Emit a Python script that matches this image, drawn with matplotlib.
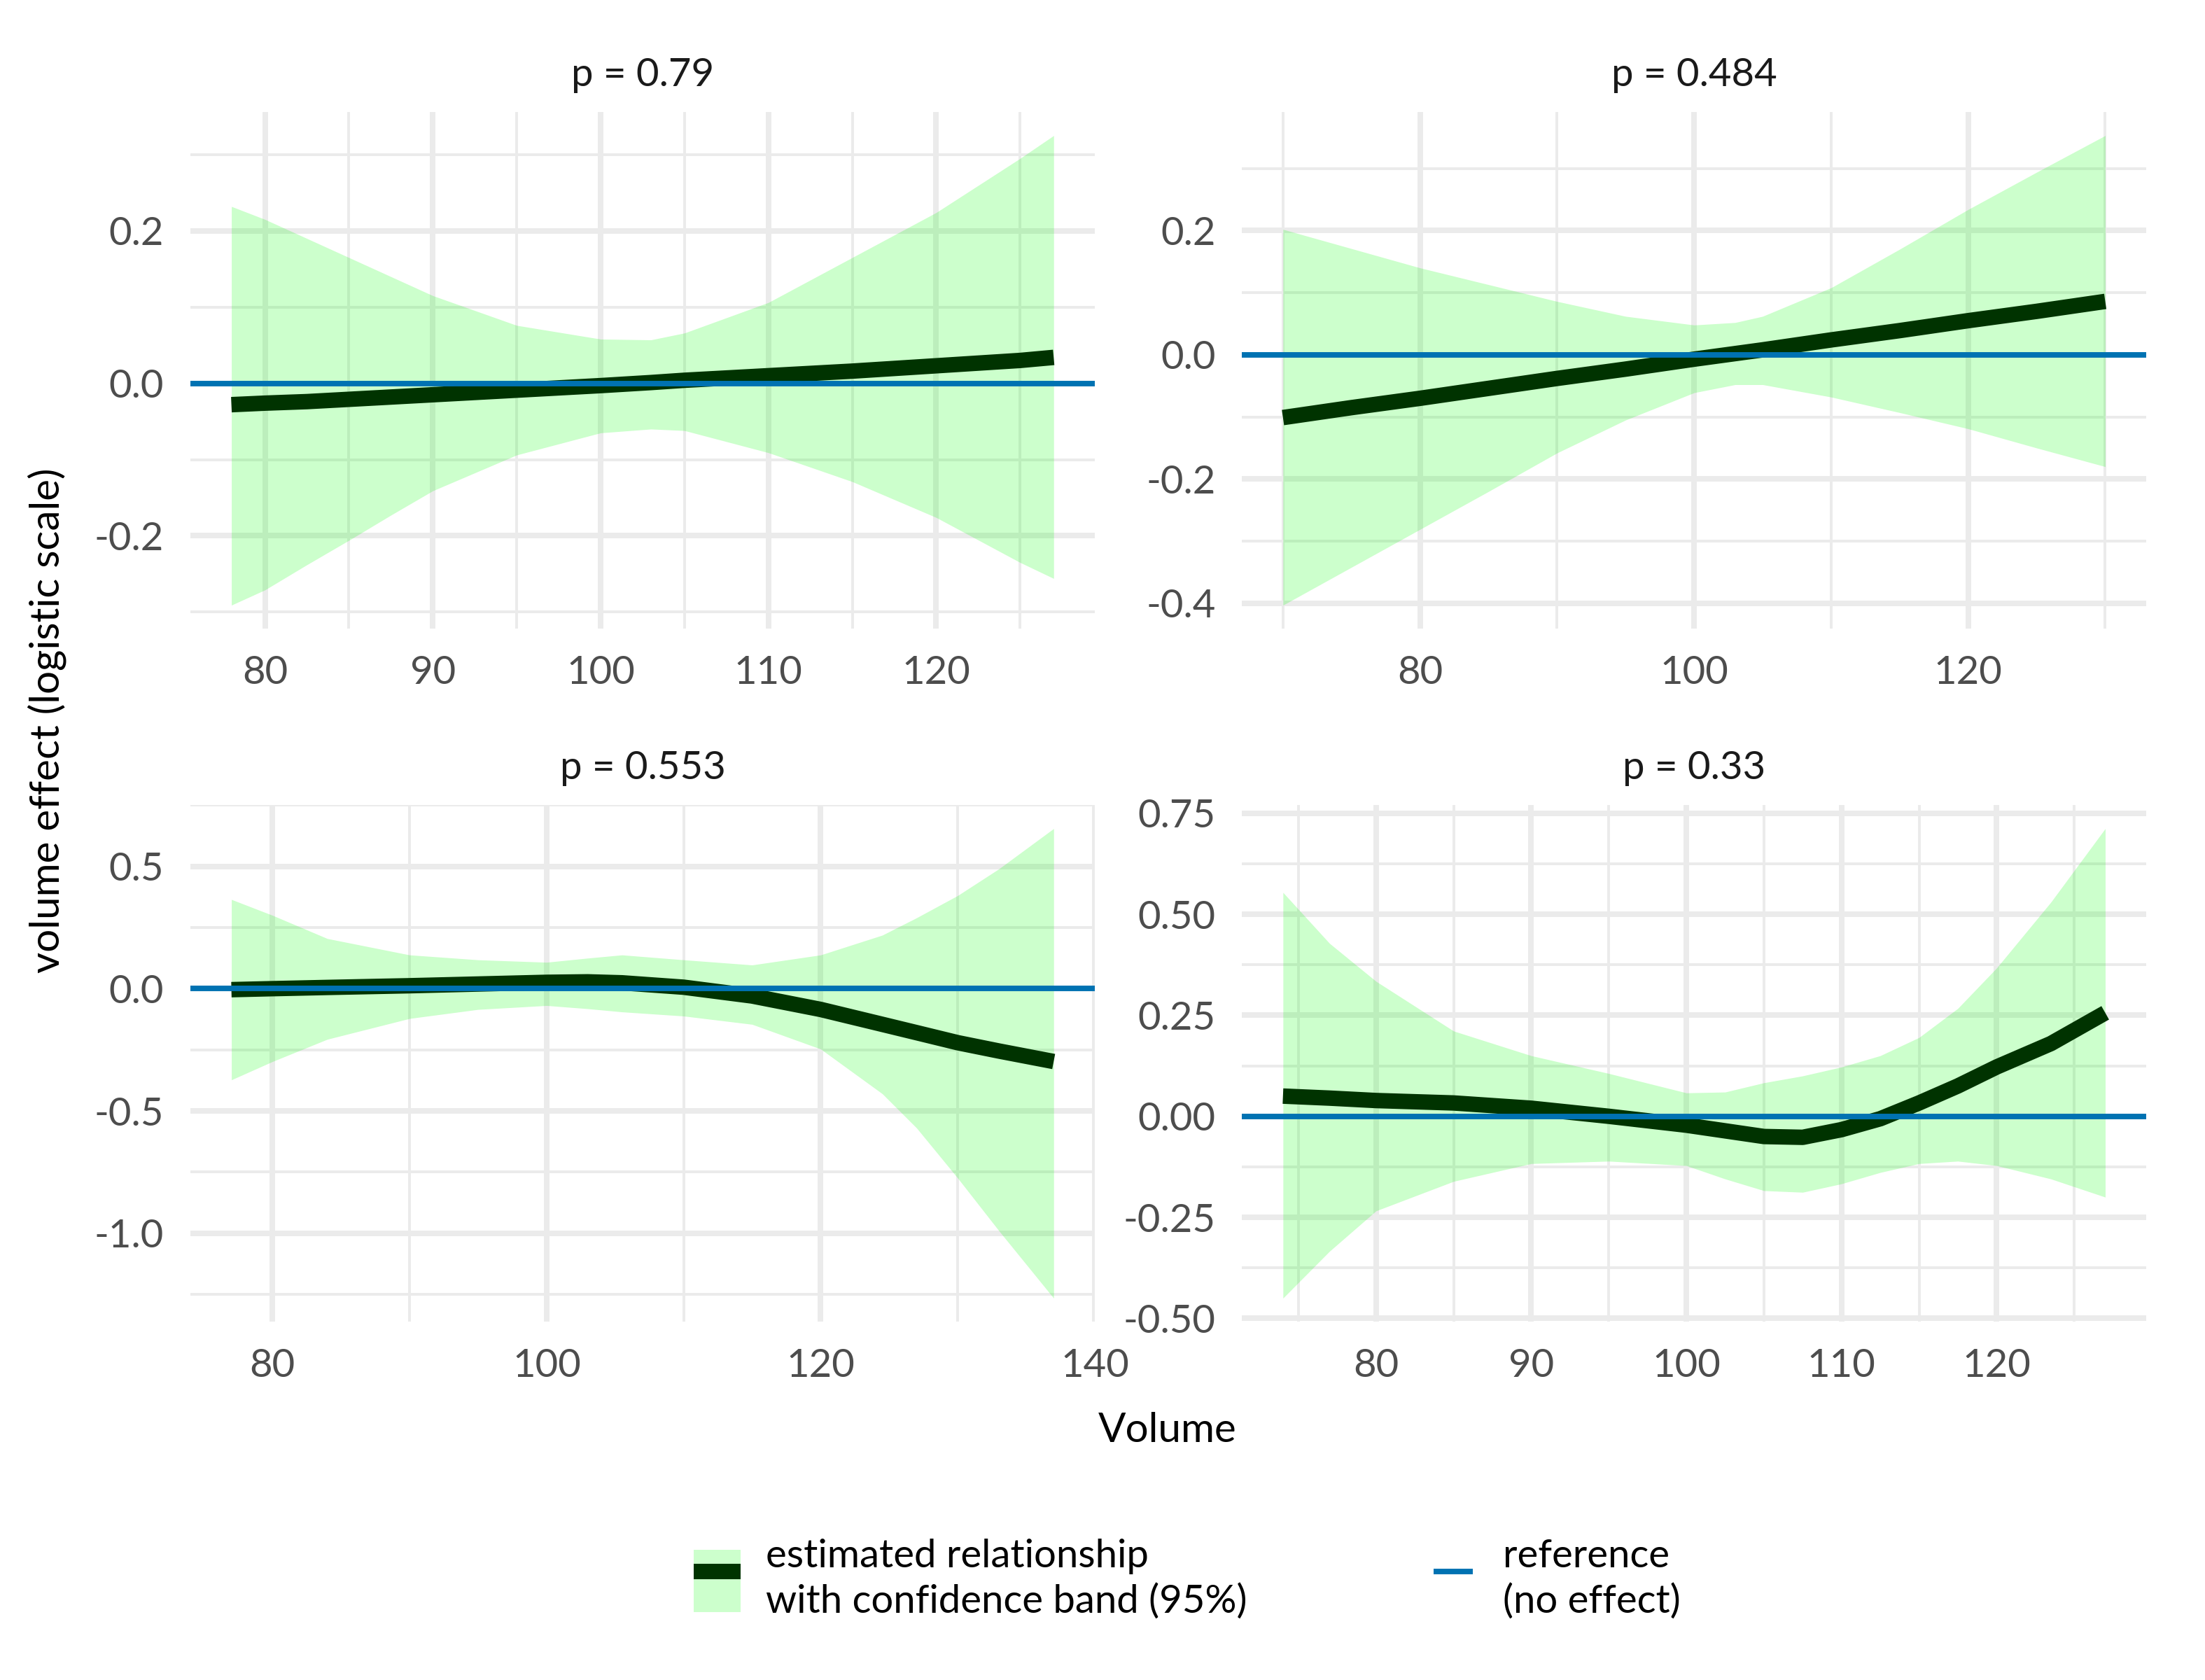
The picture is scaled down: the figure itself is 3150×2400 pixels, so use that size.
import matplotlib
matplotlib.use('Agg')
import matplotlib.pyplot as plt
from matplotlib.lines import Line2D
from matplotlib.patches import Patch
from matplotlib.legend_handler import HandlerTuple
from matplotlib.ticker import FixedLocator, FormatStrFormatter

plt.rcParams['font.family'] = ['Lato', 'DejaVu Sans']
plt.rcParams['axes.unicode_minus'] = False

# panel 1: p = 0.79
p1_x = [78, 80, 82.5, 85, 87.5, 90, 95, 100, 103, 105, 110, 115, 120, 125, 127]
p1_fit = [-0.028, -0.026, -0.024, -0.021, -0.018, -0.015, -0.009, -0.003, 0.001,
          0.004, 0.010, 0.016, 0.023, 0.030, 0.034]
p1_hi = [0.232, 0.215, 0.190, 0.165, 0.140, 0.115, 0.076, 0.058, 0.057,
         0.066, 0.106, 0.165, 0.224, 0.295, 0.325]
p1_lo = [-0.291, -0.271, -0.238, -0.206, -0.173, -0.141, -0.094, -0.065, -0.060,
         -0.062, -0.091, -0.129, -0.176, -0.235, -0.256]

# panel 2: p = 0.484
p2_x = [70, 75, 80, 85, 90, 95, 100, 103, 105, 110, 115, 120, 125, 130]
p2_fit = [-0.101, -0.085, -0.070, -0.054, -0.038, -0.023, -0.007, 0.002, 0.008,
          0.024, 0.039, 0.055, 0.070, 0.086]
p2_hi = [0.202, 0.171, 0.140, 0.113, 0.086, 0.062, 0.048, 0.052, 0.062, 0.108,
         0.170, 0.234, 0.294, 0.353]
p2_lo = [-0.403, -0.342, -0.281, -0.220, -0.158, -0.105, -0.061, -0.048, -0.048,
         -0.068, -0.093, -0.119, -0.150, -0.180]

# panel 3: p = 0.553
p3_x = [77, 80, 84, 90, 95, 100, 103, 105.5, 110, 115, 120, 124.5, 127, 130, 133, 137]
p3_fit = [-0.004, 0.000, 0.005, 0.012, 0.019, 0.026, 0.028, 0.024, 0.006, -0.030,
          -0.085, -0.146, -0.180, -0.221, -0.255, -0.298]
p3_hi = [0.365, 0.300, 0.205, 0.138, 0.118, 0.108, 0.125, 0.138, 0.118, 0.097,
         0.138, 0.219, 0.290, 0.381, 0.490, 0.655]
p3_lo = [-0.373, -0.298, -0.207, -0.122, -0.085, -0.069, -0.082, -0.095, -0.112,
         -0.146, -0.247, -0.430, -0.570, -0.775, -0.990, -1.266]

# panel 4: p = 0.33
p4_x = [74, 77, 80, 85, 90, 95, 100, 102.5, 105, 107.5, 110, 112.5, 115, 117.5,
        120, 123.5, 127]
p4_fit = [0.050, 0.045, 0.039, 0.033, 0.020, 0.000, -0.022, -0.036, -0.050, -0.052,
          -0.033, -0.006, 0.033, 0.075, 0.122, 0.180, 0.256]
p4_hi = [0.554, 0.428, 0.334, 0.211, 0.150, 0.106, 0.058, 0.060, 0.083, 0.100,
         0.122, 0.150, 0.195, 0.267, 0.367, 0.530, 0.712]
p4_lo = [-0.450, -0.334, -0.234, -0.161, -0.117, -0.111, -0.122, -0.155, -0.184,
         -0.188, -0.167, -0.139, -0.117, -0.111, -0.122, -0.155, -0.200]

titles = ['p = 0.79', 'p = 0.484', 'p = 0.553', 'p = 0.33']

panels = [
    dict(x=p1_x, fit=p1_fit, hi=p1_hi, lo=p1_lo,
         xmaj=[80, 90, 100, 110, 120], xmin=[85, 95, 105, 115, 125],
         ymaj=[-0.2, 0.0, 0.2], ymin=[-0.3, -0.1, 0.1, 0.3], yfmt='%.1f'),
    dict(x=p2_x, fit=p2_fit, hi=p2_hi, lo=p2_lo,
         xmaj=[80, 100, 120], xmin=[70, 90, 110, 130],
         ymaj=[-0.4, -0.2, 0.0, 0.2], ymin=[-0.3, -0.1, 0.1, 0.3], yfmt='%.1f'),
    dict(x=p3_x, fit=p3_fit, hi=p3_hi, lo=p3_lo,
         xmaj=[80, 100, 120, 140], xmin=[90, 110, 130],
         ymaj=[-1.0, -0.5, 0.0, 0.5], ymin=[-1.25, -0.75, -0.25, 0.25, 0.75], yfmt='%.1f'),
    dict(x=p4_x, fit=p4_fit, hi=p4_hi, lo=p4_lo,
         xmaj=[80, 90, 100, 110, 120], xmin=[75, 85, 95, 105, 115, 125],
         ymaj=[-0.5, -0.25, 0.0, 0.25, 0.5, 0.75],
         ymin=[-0.375, -0.125, 0.125, 0.375, 0.625], yfmt='%.2f'),
]

# panel rectangles (left, bottom, width, height) in figure fraction
rects = [
    (0.0863, 0.6258, 0.4102, 0.3075),
    (0.5632, 0.6258, 0.4102, 0.3075),
    (0.0863, 0.2133, 0.4102, 0.3075),
    (0.5632, 0.2133, 0.4102, 0.3075),
]

BAND = '#00FF00'
FIT = '#003300'
REF = '#0072B2'
GRID = '#EBEBEB'
FS = 13.5

fig = plt.figure(figsize=(10.5, 8), dpi=300)

for rect, p, title in zip(rects, panels, titles):
    ax = fig.add_axes(rect)
    ax.fill_between(p['x'], p['lo'], p['hi'], color=BAND, alpha=0.2, linewidth=0)
    ax.plot(p['x'], p['fit'], color=FIT, linewidth=5.3, solid_capstyle='butt')
    ax.axhline(0, color=REF, linewidth=1.9)

    # ggplot-like 5% expansion
    x0, x1 = min(p['x']), max(p['x'])
    y0, y1 = min(p['lo']), max(p['hi'])
    ax.set_xlim(x0 - 0.05 * (x1 - x0), x1 + 0.05 * (x1 - x0))
    ax.set_ylim(y0 - 0.05 * (y1 - y0), y1 + 0.05 * (y1 - y0))

    ax.xaxis.set_major_locator(FixedLocator(p['xmaj']))
    ax.xaxis.set_minor_locator(FixedLocator(p['xmin']))
    ax.yaxis.set_major_locator(FixedLocator(p['ymaj']))
    ax.yaxis.set_minor_locator(FixedLocator(p['ymin']))
    ax.yaxis.set_major_formatter(FormatStrFormatter(p['yfmt']))
    ax.xaxis.set_major_formatter(FormatStrFormatter('%d'))

    ax.set_axisbelow(True)
    ax.grid(True, which='major', color=GRID, linewidth=1.9)
    ax.grid(True, which='minor', color=GRID, linewidth=0.95)
    for s in ax.spines.values():
        s.set_visible(False)
    ax.tick_params(which='both', length=0)
    ax.tick_params(axis='both', which='major', labelsize=FS, labelcolor='#4D4D4D', pad=9)

    ax.set_title(title, fontsize=FS, color='#1A1A1A', pad=9)

fig.text(0.0213, 0.571, 'volume effect (logistic scale)', rotation=90,
         ha='center', va='center', fontsize=14, color='black')
fig.text(0.5295, 0.1417, 'Volume', ha='center', va='baseline', fontsize=14, color='black')

# legend
band_handle = (Patch(facecolor=BAND, alpha=0.2, edgecolor='none'),
               Line2D([], [], color=FIT, linewidth=5.3, solid_capstyle='butt'))
ref_handle = Line2D([], [], color=REF, linewidth=1.9, solid_capstyle='butt')

leg_kw = dict(frameon=False, fontsize=FS, handleheight=2.06,
              borderpad=0, borderaxespad=0, labelspacing=0)
leg1 = fig.legend([band_handle], ['estimated relationship\nwith confidence band (95%)'],
                  handler_map={tuple: HandlerTuple(ndivide=1, pad=0)},
                  handlelength=1.19, handletextpad=0.64,
                  loc='center left', bbox_to_anchor=(0.3146, 0.06), **leg_kw)
leg2 = fig.legend([ref_handle], ['reference\n(no effect)'],
                  handlelength=1.0, handletextpad=0.75,
                  loc='center left', bbox_to_anchor=(0.6502, 0.06), **leg_kw)
for leg in (leg1, leg2):
    for t in leg.get_texts():
        t.set_linespacing(1.3)

plt.savefig('out.png', dpi=300)
plt.close()
